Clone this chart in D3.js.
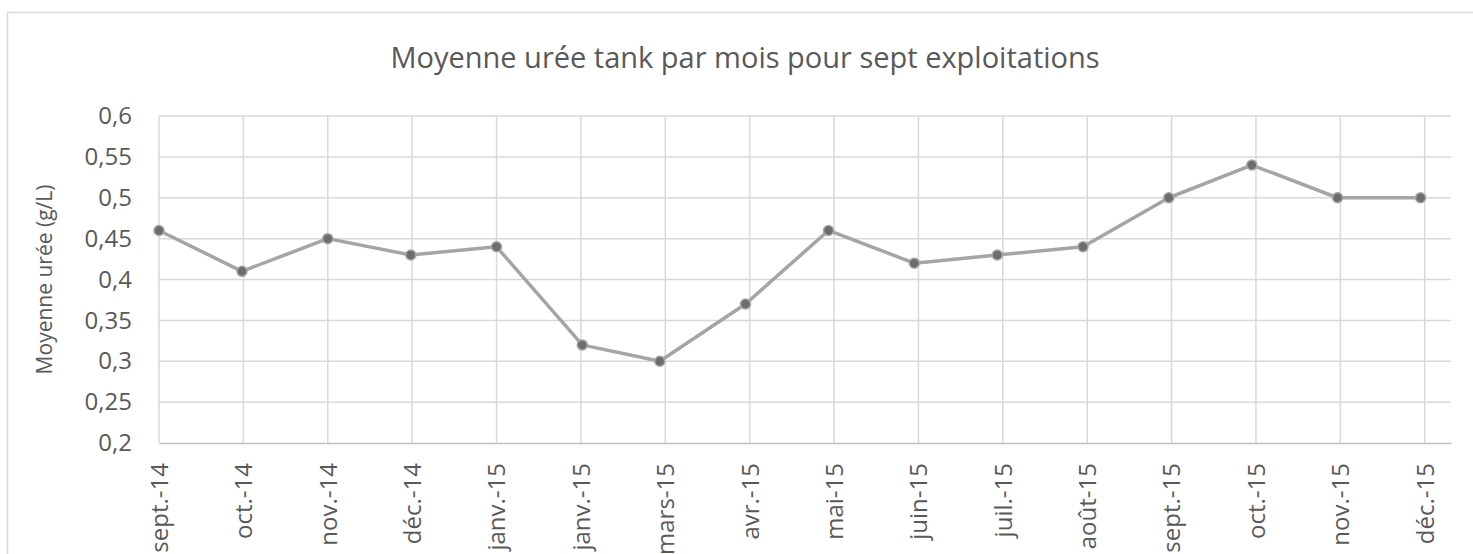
<!DOCTYPE html>
<html>
<head>
<meta charset="utf-8">
<script src="https://cdn.jsdelivr.net/npm/d3@7"></script>
<style>
  body { margin: 0; background: #fff; }
  svg { display: block; font-family: "Open Sans", sans-serif; }
</style>
</head>
<body>
<div id="chart"></div>
<script>
// monthly averages (first day of each month)
const months = ["2014-09-01", "2014-10-01", "2014-11-01", "2014-12-01", "2015-01-01", "2015-02-01",
  "2015-03-01", "2015-04-01", "2015-05-01", "2015-06-01", "2015-07-01", "2015-08-01",
  "2015-09-01", "2015-10-01", "2015-11-01", "2015-12-01"];
const uree = [0.46, 0.41, 0.45, 0.43, 0.44, 0.32, 0.30, 0.37, 0.46, 0.42, 0.43, 0.44, 0.50, 0.54, 0.50, 0.50];

// axis labels as printed by the spreadsheet (ticks every 30.5 days)
const tickLabels = ["sept.-14", "oct.-14", "nov.-14", "déc.-14", "janv.-15", "janv.-15", "mars-15", "avr.-15",
  "mai-15", "juin-15", "juil.-15", "août-15", "sept.-15", "oct.-15", "nov.-15", "déc.-15"];
const yTicks = [0.2, 0.25, 0.3, 0.35, 0.4, 0.45, 0.5, 0.55, 0.6];

const width = 1473;
const height = 554;
const margin = { top: 116, right: 22, bottom: 111, left: 159 };
const font = '"Open Sans", sans-serif';

const day = 24 * 3600 * 1000;
const start = new Date(Date.UTC(2014, 8, 1));
const tickDates = tickLabels.map((d, i) => new Date(start.getTime() + i * 30.5 * day));
const data = months.map((m, i) => ({ date: new Date(m + "T00:00:00Z"), value: uree[i] }));

const svg = d3.select('#chart')
  .append('svg')
  .attr('width', width)
  .attr('height', height)

// chart frame
svg.append('rect')
  .attr('x', 7.5)
  .attr('y', 12.5)
  .attr('width', 1480)
  .attr('height', 600)
  .attr('fill', '#fff')
  .attr('stroke', '#d9d9d9')
  .attr('stroke-width', 1.5)

const xScale = d3.scaleUtc()
  .domain([start, new Date(start.getTime() + 467 * day)])
  .range([margin.left, width - margin.right])

const yScale = d3.scaleLinear()
  .domain([0.2, 0.6])
  .range([height - margin.bottom, margin.top])

const fmt = d3.format(".2~f");

// horizontal grid
svg.append('g')
  .selectAll('line')
  .data(yTicks.slice(1))
  .enter()
  .append('line')
  .attr('x1', margin.left)
  .attr('x2', width - margin.right)
  .attr('y1', d => yScale(d))
  .attr('y2', d => yScale(d))
  .attr('stroke', '#d9d9d9')
  .attr('stroke-width', 1.5)

// vertical grid
svg.append('g')
  .selectAll('line')
  .data(tickDates)
  .enter()
  .append('line')
  .attr('x1', d => xScale(d))
  .attr('x2', d => xScale(d))
  .attr('y1', margin.top)
  .attr('y2', height - margin.bottom)
  .attr('stroke', '#d9d9d9')
  .attr('stroke-width', 1.5)

// x axis
const xAxis = d3.axisBottom(xScale)
  .tickValues(tickDates)
  .tickFormat((d, i) => tickLabels[i])
  .tickSize(0)
  .tickPadding(0)

const gx = svg.append('g')
  .attr('transform', `translate(0, ${height - margin.bottom})`)
  .call(xAxis)
  .attr('font-family', font)

gx.select('.domain')
  .attr('stroke', '#bfbfbf')
  .attr('stroke-width', 1.5)

gx.selectAll('text')
  .attr('fill', '#595959')
  .style('font-size', '24px')
  .attr('text-anchor', 'end')
  .attr('dy', '0.35em')
  .attr('y', 0)
  .attr('transform', 'translate(0, 20) rotate(-90)')

// y axis
const yAxis = d3.axisLeft(yScale)
  .tickValues(yTicks)
  .tickFormat(d => fmt(d).replace('.', ','))
  .tickSize(0)
  .tickPadding(27)

const gy = svg.append('g')
  .attr('transform', `translate(${margin.left}, 0)`)
  .call(yAxis)
  .attr('font-family', font)

gy.select('.domain').remove()

gy.selectAll('text')
  .attr('fill', '#595959')
  .style('font-size', '24px')

// series
const line = d3.line()
  .x(d => xScale(d.date))
  .y(d => yScale(d.value))

svg.append('path')
  .datum(data)
  .attr('d', line)
  .attr('fill', 'none')
  .attr('stroke', '#a5a5a5')
  .attr('stroke-width', 3.5)
  .attr('stroke-linejoin', 'round')

svg.append('g')
  .selectAll('circle')
  .data(data)
  .enter()
  .append('circle')
  .attr('cx', d => xScale(d.date))
  .attr('cy', d => yScale(d.value))
  .attr('r', 5)
  .attr('fill', '#6f6c6c')
  .attr('stroke', '#a5a5a5')
  .attr('stroke-width', 1.5)

// titles
svg.append('text')
  .attr('x', 745)
  .attr('y', 58)
  .attr('dy', '0.35em')
  .attr('text-anchor', 'middle')
  .attr('fill', '#595959')
  .style('font-size', '29px')
  .text('Moyenne urée tank par mois pour sept exploitations')

svg.append('text')
  .attr('transform', `translate(45, ${(margin.top + height - margin.bottom) / 2}) rotate(-90)`)
  .attr('dy', '0.35em')
  .attr('text-anchor', 'middle')
  .attr('fill', '#595959')
  .style('font-size', '21px')
  .text('Moyenne urée (g/L)')
</script>
</body>
</html>
